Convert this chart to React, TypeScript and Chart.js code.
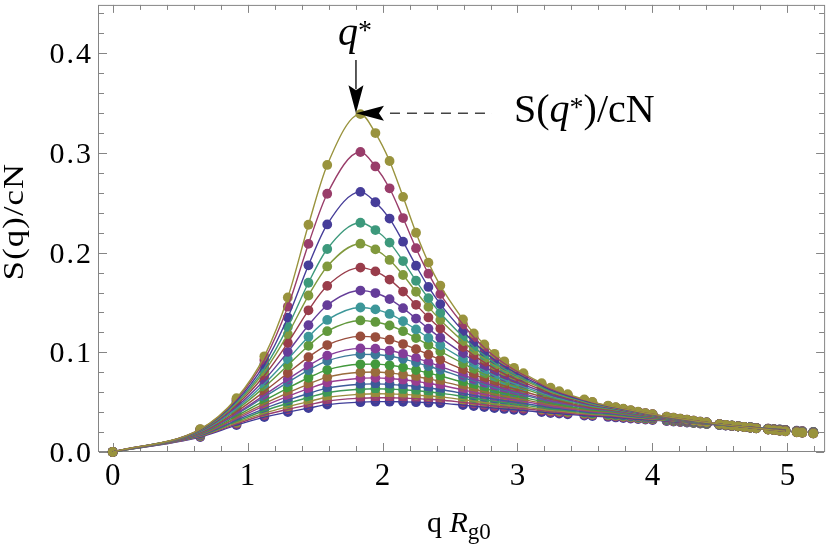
import React, { useRef, useEffect } from "react";
import { Chart, registerables } from "chart.js";

Chart.register(...registerables);

// q Rg0 of the sampled wave vectors
const Q = [
  0, 0.649, 0.918, 1.124, 1.298, 1.451, 1.59, 1.836, 1.947, 2.052,
  2.152, 2.248, 2.34, 2.428, 2.596, 2.676, 2.754, 2.829, 2.902, 2.974,
  3.044, 3.179, 3.245, 3.309, 3.372, 3.495, 3.555, 3.671, 3.728, 3.784,
  3.839, 3.894, 3.948, 4.001, 4.105, 4.156, 4.206, 4.256, 4.305, 4.354,
  4.402, 4.496, 4.543, 4.589, 4.635, 4.68, 4.725, 4.769, 4.857, 4.9,
  4.943, 4.985, 5.069, 5.11, 5.192,
];

// S(q)/cN, one array per curve, lowest peak first
const S01 = [
  0, 0.015, 0.027, 0.035, 0.04, 0.044, 0.0475, 0.05, 0.0505, 0.0505,
  0.0503, 0.05, 0.0495, 0.049, 0.047, 0.046, 0.045, 0.044, 0.0432, 0.0424,
  0.0416, 0.04, 0.039, 0.0385, 0.0378, 0.0366, 0.036, 0.0352, 0.0347, 0.0341,
  0.0335, 0.033, 0.0325, 0.032, 0.031, 0.0305, 0.03, 0.0295, 0.029, 0.0285,
  0.028, 0.0271, 0.0266, 0.0261, 0.0257, 0.0252, 0.0248, 0.0243, 0.0235, 0.023,
  0.0226, 0.0222, 0.0213, 0.0209, 0.0202,
];
const S02 = [
  0, 0.0155, 0.0282, 0.0371, 0.0428, 0.0473, 0.0512, 0.054, 0.0545, 0.0544,
  0.0541, 0.0536, 0.0529, 0.0522, 0.0498, 0.0486, 0.0474, 0.0462, 0.0453, 0.0443,
  0.0434, 0.0415, 0.0404, 0.0398, 0.039, 0.0376, 0.0369, 0.0362, 0.0356, 0.0349,
  0.0342, 0.0337, 0.0331, 0.0325, 0.0314, 0.0309, 0.0303, 0.0298, 0.0292, 0.0287,
  0.0281, 0.0272, 0.0267, 0.0261, 0.0257, 0.0252, 0.0248, 0.0243, 0.0234, 0.0229,
  0.0225, 0.0221, 0.0212, 0.0208, 0.0201,
];
const S03 = [
  0, 0.0159, 0.0294, 0.039, 0.0455, 0.0506, 0.0549, 0.058, 0.0585, 0.0583,
  0.0578, 0.0571, 0.0562, 0.0553, 0.0525, 0.0511, 0.0497, 0.0483, 0.0472, 0.0461,
  0.0451, 0.0429, 0.0417, 0.041, 0.0401, 0.0385, 0.0377, 0.037, 0.0364, 0.0356,
  0.0349, 0.0342, 0.0336, 0.033, 0.0317, 0.0312, 0.0306, 0.03, 0.0294, 0.0288,
  0.0283, 0.0273, 0.0267, 0.0262, 0.0257, 0.0252, 0.0248, 0.0242, 0.0234, 0.0228,
  0.0224, 0.022, 0.0211, 0.0207, 0.0199,
];
const S04 = [
  0, 0.0164, 0.0307, 0.0414, 0.0488, 0.0547, 0.0595, 0.063, 0.0635, 0.0631,
  0.0624, 0.0615, 0.0603, 0.0591, 0.0557, 0.054, 0.0524, 0.0508, 0.0495, 0.0482,
  0.047, 0.0445, 0.0431, 0.0423, 0.0413, 0.0395, 0.0387, 0.0379, 0.0372, 0.0364,
  0.0356, 0.0348, 0.0341, 0.0335, 0.0321, 0.0315, 0.0309, 0.0302, 0.0296, 0.029,
  0.0284, 0.0273, 0.0267, 0.0262, 0.0257, 0.0252, 0.0248, 0.0242, 0.0233, 0.0228,
  0.0223, 0.0219, 0.0209, 0.0205, 0.0198,
];
const S05 = [
  0, 0.0168, 0.032, 0.0436, 0.052, 0.0587, 0.0641, 0.068, 0.0684, 0.0679,
  0.067, 0.0658, 0.0642, 0.0627, 0.0588, 0.0568, 0.055, 0.0531, 0.0516, 0.0502,
  0.0488, 0.046, 0.0444, 0.0435, 0.0424, 0.0404, 0.0395, 0.0387, 0.0379, 0.037,
  0.0361, 0.0353, 0.0345, 0.0339, 0.0324, 0.0317, 0.0311, 0.0304, 0.0298, 0.0291,
  0.0285, 0.0274, 0.0268, 0.0262, 0.0257, 0.0252, 0.0247, 0.0241, 0.0232, 0.0227,
  0.0222, 0.0218, 0.0208, 0.0204, 0.0197,
];
const S06 = [
  0, 0.0173, 0.0334, 0.0462, 0.0558, 0.0635, 0.0697, 0.074, 0.0744, 0.0738,
  0.0725, 0.0709, 0.0689, 0.067, 0.0623, 0.06, 0.0579, 0.0557, 0.054, 0.0524,
  0.0508, 0.0476, 0.0459, 0.0448, 0.0436, 0.0414, 0.0404, 0.0395, 0.0386, 0.0377,
  0.0367, 0.0359, 0.035, 0.0343, 0.0327, 0.032, 0.0313, 0.0306, 0.03, 0.0293,
  0.0287, 0.0274, 0.0268, 0.0263, 0.0258, 0.0252, 0.0247, 0.0241, 0.0232, 0.0226,
  0.0221, 0.0217, 0.0207, 0.0203, 0.0196,
];
const S07 = [
  0, 0.0177, 0.0346, 0.0486, 0.0594, 0.0682, 0.0751, 0.08, 0.0803, 0.0794,
  0.0778, 0.0758, 0.0734, 0.0711, 0.0657, 0.063, 0.0605, 0.0581, 0.0562, 0.0543,
  0.0526, 0.0491, 0.0472, 0.046, 0.0446, 0.0423, 0.0412, 0.0402, 0.0392, 0.0382,
  0.0372, 0.0363, 0.0354, 0.0346, 0.033, 0.0323, 0.0315, 0.0308, 0.0301, 0.0294,
  0.0288, 0.0275, 0.0269, 0.0263, 0.0258, 0.0252, 0.0247, 0.0241, 0.0231, 0.0226,
  0.0221, 0.0216, 0.0206, 0.0202, 0.0195,
];
const S08 = [
  0, 0.0182, 0.0362, 0.0516, 0.0641, 0.0745, 0.0824, 0.088, 0.0882, 0.087,
  0.0849, 0.0822, 0.0792, 0.0763, 0.0699, 0.0668, 0.0639, 0.0612, 0.0589, 0.0568,
  0.0547, 0.0508, 0.0488, 0.0474, 0.0459, 0.0433, 0.0421, 0.0409, 0.0399, 0.0389,
  0.0378, 0.0368, 0.0358, 0.035, 0.0333, 0.0325, 0.0318, 0.031, 0.0303, 0.0295,
  0.0289, 0.0276, 0.0269, 0.0263, 0.0258, 0.0252, 0.0247, 0.024, 0.023, 0.0225,
  0.022, 0.0215, 0.0205, 0.0201, 0.0194,
];
const S09 = [
  0, 0.0188, 0.0379, 0.0552, 0.0698, 0.0821, 0.0914, 0.098, 0.0979, 0.0963,
  0.0935, 0.0899, 0.0861, 0.0825, 0.0748, 0.0711, 0.0677, 0.0645, 0.0619, 0.0595,
  0.0571, 0.0527, 0.0505, 0.0489, 0.0473, 0.0444, 0.043, 0.0417, 0.0406, 0.0395,
  0.0384, 0.0373, 0.0362, 0.0355, 0.0336, 0.0328, 0.032, 0.0312, 0.0304, 0.0297,
  0.029, 0.0276, 0.0269, 0.0263, 0.0258, 0.0252, 0.0246, 0.024, 0.023, 0.0224,
  0.0219, 0.0214, 0.0204, 0.02, 0.0193,
];
const S10 = [
  0, 0.019, 0.0388, 0.0571, 0.073, 0.0865, 0.0967, 0.104, 0.1037, 0.1018,
  0.0985, 0.0944, 0.0901, 0.086, 0.0775, 0.0734, 0.0698, 0.0664, 0.0635, 0.0609,
  0.0585, 0.0538, 0.0514, 0.0497, 0.048, 0.045, 0.0435, 0.0421, 0.041, 0.0398,
  0.0387, 0.0376, 0.0365, 0.0357, 0.0337, 0.0329, 0.0321, 0.0313, 0.0305, 0.0297,
  0.029, 0.0277, 0.027, 0.0263, 0.0258, 0.0252, 0.0246, 0.024, 0.0229, 0.0224,
  0.0219, 0.0214, 0.0204, 0.02, 0.0192,
];
const S11 = [
  0, 0.0195, 0.0405, 0.0608, 0.0792, 0.0952, 0.1073, 0.116, 0.1153, 0.1127,
  0.1083, 0.1032, 0.0977, 0.0927, 0.0826, 0.0779, 0.0736, 0.0697, 0.0665, 0.0635,
  0.0608, 0.0556, 0.053, 0.0511, 0.0492, 0.046, 0.0444, 0.0427, 0.0416, 0.0404,
  0.0392, 0.038, 0.0368, 0.036, 0.034, 0.0332, 0.0323, 0.0315, 0.0307, 0.0298,
  0.0291, 0.0277, 0.027, 0.0264, 0.0258, 0.0251, 0.0246, 0.024, 0.0229, 0.0223,
  0.0218, 0.0213, 0.0203, 0.0199, 0.0191,
];
const S12 = [
  0, 0.0201, 0.0424, 0.0651, 0.087, 0.1066, 0.1212, 0.132, 0.1305, 0.1269,
  0.1212, 0.1143, 0.1073, 0.1009, 0.0888, 0.0831, 0.0782, 0.0737, 0.0699, 0.0665,
  0.0635, 0.0576, 0.0548, 0.0526, 0.0506, 0.0471, 0.0454, 0.0434, 0.0422, 0.0409,
  0.0397, 0.0385, 0.0372, 0.0364, 0.0343, 0.0334, 0.0326, 0.0317, 0.0308, 0.03,
  0.0292, 0.0278, 0.027, 0.0264, 0.0258, 0.0251, 0.0246, 0.0239, 0.0228, 0.0223,
  0.0217, 0.0212, 0.0202, 0.0198, 0.019,
];
const S13 = [
  0, 0.0205, 0.0438, 0.0684, 0.093, 0.1157, 0.1325, 0.145, 0.1431, 0.1385,
  0.1312, 0.123, 0.1145, 0.1071, 0.0934, 0.087, 0.0815, 0.0765, 0.0724, 0.0687,
  0.0654, 0.0591, 0.056, 0.0537, 0.0516, 0.0478, 0.0461, 0.0439, 0.0426, 0.0413,
  0.04, 0.0388, 0.0375, 0.0366, 0.0345, 0.0336, 0.0327, 0.0318, 0.0309, 0.03,
  0.0293, 0.0278, 0.0271, 0.0264, 0.0258, 0.0251, 0.0246, 0.0239, 0.0228, 0.0222,
  0.0217, 0.0211, 0.0202, 0.0198, 0.019,
];
const S14 = [
  0, 0.0209, 0.0454, 0.0722, 0.1004, 0.1272, 0.1473, 0.162, 0.1595, 0.1534,
  0.1443, 0.1339, 0.1238, 0.1147, 0.0988, 0.0916, 0.0854, 0.0798, 0.0752, 0.0712,
  0.0675, 0.0607, 0.0574, 0.055, 0.0527, 0.0486, 0.0468, 0.0444, 0.0431, 0.0417,
  0.0404, 0.0391, 0.0378, 0.0369, 0.0347, 0.0337, 0.0328, 0.0319, 0.031, 0.0301,
  0.0294, 0.0278, 0.0271, 0.0264, 0.0258, 0.0251, 0.0246, 0.0239, 0.0228, 0.0222,
  0.0216, 0.0211, 0.0201, 0.0197, 0.0189,
];
const S15 = [
  0, 0.0214, 0.0472, 0.0768, 0.1096, 0.1422, 0.1667, 0.185, 0.1812, 0.173,
  0.161, 0.1477, 0.135, 0.1239, 0.1053, 0.0969, 0.0899, 0.0836, 0.0785, 0.074,
  0.0699, 0.0625, 0.059, 0.0563, 0.0539, 0.0496, 0.0476, 0.0449, 0.0435, 0.0422,
  0.0408, 0.0394, 0.0381, 0.0371, 0.0349, 0.0339, 0.033, 0.0321, 0.0311, 0.0302,
  0.0295, 0.0279, 0.0271, 0.0264, 0.0258, 0.0251, 0.0245, 0.0239, 0.0227, 0.0221,
  0.0216, 0.021, 0.02, 0.0196, 0.0188,
];
const S16 = [
  0, 0.0218, 0.0487, 0.0808, 0.1183, 0.157, 0.1862, 0.209, 0.2033, 0.1927,
  0.1776, 0.1608, 0.1456, 0.1325, 0.111, 0.1016, 0.0938, 0.0869, 0.0813, 0.0763,
  0.072, 0.064, 0.0602, 0.0574, 0.0548, 0.0503, 0.0482, 0.0453, 0.0439, 0.0425,
  0.0411, 0.0397, 0.0383, 0.0374, 0.035, 0.0341, 0.0331, 0.0322, 0.0312, 0.0303,
  0.0295, 0.0279, 0.0271, 0.0265, 0.0258, 0.0251, 0.0245, 0.0239, 0.0227, 0.0221,
  0.0215, 0.021, 0.02, 0.0196, 0.0188,
];
const S17 = [
  0, 0.022, 0.0499, 0.084, 0.1255, 0.1698, 0.2037, 0.23, 0.2227, 0.2101,
  0.1916, 0.1718, 0.1543, 0.1395, 0.1156, 0.1054, 0.0969, 0.0895, 0.0834, 0.0782,
  0.0736, 0.0652, 0.0612, 0.0582, 0.0556, 0.0509, 0.0487, 0.0456, 0.0442, 0.0427,
  0.0413, 0.0399, 0.0385, 0.0375, 0.0351, 0.0342, 0.0332, 0.0323, 0.0313, 0.0303,
  0.0296, 0.0279, 0.0272, 0.0265, 0.0258, 0.0251, 0.0245, 0.0238, 0.0227, 0.0221,
  0.0215, 0.0209, 0.0199, 0.0195, 0.0187,
];
const S18 = [
  0, 0.0224, 0.0513, 0.088, 0.1349, 0.1873, 0.2283, 0.261, 0.2506, 0.2342,
  0.211, 0.1869, 0.1656, 0.1484, 0.1214, 0.11, 0.1007, 0.0926, 0.0861, 0.0804,
  0.0755, 0.0665, 0.0624, 0.0592, 0.0564, 0.0515, 0.0493, 0.0459, 0.0445, 0.043,
  0.0416, 0.0401, 0.0387, 0.0377, 0.0353, 0.0343, 0.0333, 0.0323, 0.0314, 0.0304,
  0.0296, 0.028, 0.0272, 0.0265, 0.0258, 0.0251, 0.0245, 0.0238, 0.0227, 0.0221,
  0.0215, 0.0209, 0.0199, 0.0195, 0.0187,
];
const S19 = [
  0, 0.0227, 0.0528, 0.0924, 0.1458, 0.2088, 0.2591, 0.301, 0.2865, 0.2646,
  0.2347, 0.2045, 0.1789, 0.1585, 0.1279, 0.1151, 0.1047, 0.0959, 0.0888, 0.0827,
  0.0775, 0.0679, 0.0636, 0.0602, 0.0573, 0.0522, 0.0499, 0.0463, 0.0448, 0.0433,
  0.0418, 0.0403, 0.0389, 0.0379, 0.0354, 0.0344, 0.0334, 0.0324, 0.0315, 0.0305,
  0.0297, 0.028, 0.0272, 0.0265, 0.0258, 0.0251, 0.0245, 0.0238, 0.0226, 0.022,
  0.0214, 0.0208, 0.0198, 0.0194, 0.0186,
];
const S20 = [
  0, 0.023, 0.054, 0.096, 0.155, 0.228, 0.288, 0.339, 0.32, 0.292,
  0.256, 0.22, 0.19, 0.167, 0.133, 0.119, 0.108, 0.0985, 0.091, 0.0845,
  0.079, 0.069, 0.0645, 0.061, 0.058, 0.0527, 0.0503, 0.0465, 0.045, 0.0435,
  0.042, 0.0405, 0.039, 0.038, 0.0355, 0.0345, 0.0335, 0.0325, 0.0315, 0.0305,
  0.0297, 0.028, 0.0272, 0.0265, 0.0258, 0.0251, 0.0245, 0.0238, 0.0226, 0.022,
  0.0214, 0.0208, 0.0198, 0.0194, 0.0186,
];

const SERIES = [
  S01, S02, S03, S04, S05, S06, S07, S08, S09, S10,
  S11, S12, S13, S14, S15, S16, S17, S18, S19, S20,
];

// default plot hues, same order as SERIES
const HUES = [
  0.67, 0.906068, 0.142136, 0.378204, 0.614272, 0.85034, 0.0864079, 0.322476,
  0.558544, 0.794612, 0.0306798, 0.266748, 0.502816, 0.738884, 0.974952,
  0.21102, 0.447088, 0.683156, 0.919224, 0.155292,
];

const X_TICKS = [0, 1, 2, 3, 4, 5];
const X_TICK_LABELS = ["0", "1", "2", "3", "4", "5"];
const Y_TICKS = [0, 0.1, 0.2, 0.3, 0.4];
const Y_TICK_LABELS = ["0.0", "0.1", "0.2", "0.3", "0.4"];

// the fitted lines stop here, the points go on
const LINE_END = 5.0;
// peak of the top curve, where the two arrows meet
const Q_STAR = 1.803;
const S_STAR = 0.34;

const SERIF = '"Liberation Serif", "Times New Roman", serif';

const hsv = (h: number, s: number, v: number) => {
  const i = Math.floor(h * 6);
  const f = h * 6 - i;
  const p = v * (1 - s);
  const q = v * (1 - f * s);
  const t = v * (1 - (1 - f) * s);
  const [r, g, b] = [
    [v, t, p], [q, v, p], [p, v, t], [p, q, v], [t, p, v], [v, p, q],
  ][i % 6];
  return `rgb(${Math.round(r * 255)},${Math.round(g * 255)},${Math.round(b * 255)})`;
};

type Run = { text: string; font: string; dy?: number };

const drawRuns = (ctx: CanvasRenderingContext2D, x: number, y: number, runs: Run[]) => {
  ctx.textAlign = "left";
  ctx.textBaseline = "alphabetic";
  for (const r of runs) {
    ctx.font = r.font;
    ctx.fillText(r.text, x, y + (r.dy || 0));
    x += ctx.measureText(r.text).width;
  }
};

// frame with inward ticks on all four sides
const framePlugin = {
  id: "frame",
  beforeDatasetsDraw(chart: any) {
    const { ctx, chartArea: a, scales } = chart;
    const xs = scales.x;
    const ys = scales.y;
    ctx.save();
    ctx.strokeStyle = "#858585";
    ctx.lineWidth = 1;
    ctx.strokeRect(a.left + 0.5, a.top + 0.5, a.right - a.left - 1, a.bottom - a.top - 1);
    ctx.beginPath();
    for (let i = 0; i <= 26; i++) {
      const v = i * 0.2;
      const len = i % 5 === 0 ? 8 : 5;
      const px = Math.round(xs.getPixelForValue(v)) + 0.5;
      ctx.moveTo(px, a.bottom - 1);
      ctx.lineTo(px, a.bottom - 1 - len);
      ctx.moveTo(px, a.top);
      ctx.lineTo(px, a.top + len);
    }
    for (let i = 0; i <= 22; i++) {
      const v = i * 0.02;
      const len = i % 5 === 0 ? 8 : 5;
      const py = Math.round(ys.getPixelForValue(v)) + 0.5;
      ctx.moveTo(a.left + 1, py);
      ctx.lineTo(a.left + 1 + len, py);
      ctx.moveTo(a.right - 1, py);
      ctx.lineTo(a.right - 1 - len, py);
    }
    ctx.stroke();
    ctx.restore();
  },
  afterDraw(chart: any) {
    const { ctx, chartArea: a, scales } = chart;
    const xs = scales.x;
    const ys = scales.y;
    ctx.save();
    ctx.fillStyle = "#000";

    // tick labels
    ctx.font = `31px ${SERIF}`;
    ctx.textAlign = "center";
    ctx.textBaseline = "alphabetic";
    X_TICKS.forEach((v, i) => ctx.fillText(X_TICK_LABELS[i], xs.getPixelForValue(v), 485));
    ctx.font = `30px ${SERIF}`;
    ctx.textAlign = "right";
    (ctx as any).letterSpacing = "2px";
    Y_TICKS.forEach((v, i) => ctx.fillText(Y_TICK_LABELS[i], a.left - 5, ys.getPixelForValue(v) + 10));
    (ctx as any).letterSpacing = "0px";

    // axis titles
    ctx.save();
    ctx.translate(23, 221.5);
    ctx.rotate(-Math.PI / 2);
    ctx.scale(1.15, 1);
    ctx.font = `30px ${SERIF}`;
    ctx.textAlign = "center";
    (ctx as any).letterSpacing = "1px";
    ctx.fillText("S(q)/cN", 0, 0);
    ctx.restore();

    drawRuns(ctx, 427, 532, [
      { text: "q ", font: `30px ${SERIF}` },
      { text: "R", font: `italic 30px ${SERIF}` },
      { text: "g0", font: `23px ${SERIF}`, dy: 7 },
    ]);

    // arrows at the peak
    const tx = xs.getPixelForValue(Q_STAR);
    const ty = ys.getPixelForValue(S_STAR);
    ctx.strokeStyle = "#000";
    ctx.lineWidth = 1.3;
    ctx.beginPath();
    ctx.moveTo(tx, 60);
    ctx.lineTo(tx, ty - 24);
    ctx.stroke();
    ctx.beginPath();
    ctx.moveTo(tx, ty);
    ctx.lineTo(tx - 7.5, ty - 28);
    ctx.lineTo(tx, ty - 23);
    ctx.lineTo(tx + 7.5, ty - 28);
    ctx.closePath();
    ctx.fill();
    ctx.beginPath();
    ctx.moveTo(tx, ty);
    ctx.lineTo(tx + 28, ty - 7.5);
    ctx.lineTo(tx + 23, ty);
    ctx.lineTo(tx + 28, ty + 7.5);
    ctx.closePath();
    ctx.fill();
    ctx.strokeStyle = "#444";
    ctx.lineWidth = 1.5;
    ctx.setLineDash([10, 7]);
    ctx.beginPath();
    ctx.moveTo(tx + 34, ty);
    ctx.lineTo(492, ty);
    ctx.stroke();
    ctx.setLineDash([]);

    // annotations
    drawRuns(ctx, 338, 45, [
      { text: "q", font: `italic 40px ${SERIF}` },
      { text: "*", font: `28px ${SERIF}`, dy: -6 },
    ]);
    drawRuns(ctx, 514, 122, [
      { text: "S(", font: `40px ${SERIF}` },
      { text: "q", font: `italic 40px ${SERIF}` },
      { text: "*", font: `28px ${SERIF}`, dy: -6 },
      { text: ")/cN", font: `40px ${SERIF}` },
    ]);
    ctx.restore();
  },
};

const App = () => {
  const chartRef = useRef<HTMLCanvasElement>(null);
  const chartInstanceRef = useRef<any>(null);

  useEffect(() => {
    const ctx = chartRef.current!.getContext("2d")!;

    if (chartInstanceRef.current) {
      chartInstanceRef.current.destroy();
    }

    const datasets: any[] = [];
    SERIES.forEach((vals, k) => {
      const color = hsv(HUES[k], 0.6, 0.6);
      const pts = Q.map((q, i) => ({ x: q, y: vals[i] }));
      // measured points
      datasets.push({
        data: pts,
        showLine: false,
        pointRadius: 4.9,
        pointBorderWidth: 0,
        pointBackgroundColor: color,
        borderColor: color,
        clip: false,
        order: 100 - k,
      });
      // fitted curve
      datasets.push({
        data: pts.filter((p) => p.x <= LINE_END),
        borderColor: color,
        borderWidth: 1.4,
        pointRadius: 0,
        cubicInterpolationMode: "monotone",
        fill: false,
        order: 50 - k,
      });
    });

    chartInstanceRef.current = new Chart(ctx, {
      type: "line",
      data: { datasets },
      options: {
        animation: false,
        responsive: true,
        maintainAspectRatio: false,
        events: [],
        layout: { padding: { left: 98, right: 3, top: 0, bottom: 96 } },
        plugins: { legend: { display: false }, tooltip: { enabled: false } },
        scales: {
          x: { type: "linear", min: -0.1086, max: 5.2794, display: false },
          y: { type: "linear", min: 0, max: 0.4486, display: false },
        },
      },
      plugins: [framePlugin],
    });

    return () => {
      if (chartInstanceRef.current) {
        chartInstanceRef.current.destroy();
        chartInstanceRef.current = null;
      }
    };
  }, []);

  return (
    <div style={{ position: "absolute", left: 0, top: 0, width: 830, height: 548, background: "#fff" }}>
      <canvas ref={chartRef} />
    </div>
  );
};

export default App;
